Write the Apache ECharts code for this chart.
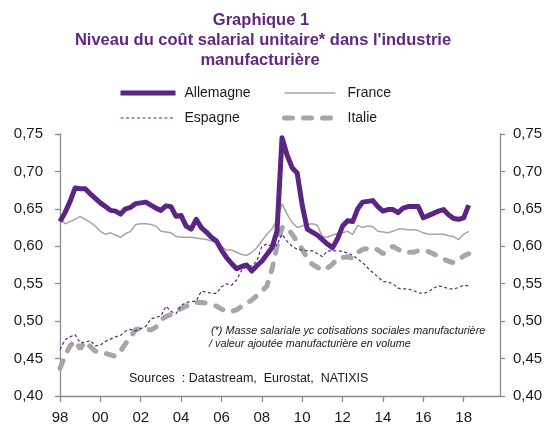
<!DOCTYPE html>
<html>
<head>
<meta charset="utf-8">
<script src="https://cdn.jsdelivr.net/npm/echarts@6/dist/echarts.min.js"></script>
<style>
  html, body { margin: 0; padding: 0; background: #fff; }
  #chart { width: 550px; height: 425px; }
</style>
</head>
<body>
<div id="chart"></div>
<script>
// Coût salarial unitaire, données trimestrielles depuis 1998T1
var startYear = 1998;
var allemagne = [
  0.633, 0.645, 0.660, 0.678, 0.677, 0.677, 0.670, 0.664, 0.658, 0.653,
  0.648, 0.647, 0.643, 0.650, 0.652, 0.657, 0.658, 0.659, 0.655, 0.651,
  0.648, 0.654, 0.653, 0.640, 0.641, 0.627, 0.623, 0.636, 0.625, 0.619,
  0.612, 0.607, 0.595, 0.585, 0.577, 0.570, 0.573, 0.575, 0.567, 0.574,
  0.580, 0.589, 0.598, 0.620, 0.745, 0.722, 0.705, 0.698, 0.655, 0.623,
  0.619, 0.615, 0.609, 0.603, 0.598, 0.610, 0.627, 0.634, 0.633, 0.650,
  0.659, 0.660, 0.661, 0.653, 0.647, 0.649, 0.649, 0.645, 0.651, 0.653,
  0.653, 0.653, 0.638, 0.641, 0.644, 0.647, 0.649, 0.642, 0.637, 0.636,
  0.638, 0.655
];
var france = [
  0.638, 0.630, 0.633, 0.636, 0.640, 0.636, 0.632, 0.627, 0.620, 0.616,
  0.618, 0.615, 0.612, 0.617, 0.620, 0.629, 0.630, 0.630, 0.629, 0.627,
  0.620, 0.619, 0.618, 0.613, 0.612, 0.612, 0.612, 0.611, 0.610, 0.609,
  0.607, 0.605, 0.600, 0.595, 0.595, 0.592, 0.589, 0.588, 0.592, 0.598,
  0.607, 0.616, 0.623, 0.635, 0.657, 0.643, 0.632, 0.625, 0.627, 0.629,
  0.630, 0.628, 0.613, 0.612, 0.615, 0.617, 0.618, 0.620, 0.616, 0.628,
  0.625, 0.627, 0.626, 0.620, 0.619, 0.618, 0.620, 0.623, 0.623, 0.622,
  0.622, 0.621, 0.618, 0.616, 0.616, 0.616, 0.616, 0.614, 0.613, 0.609,
  0.616, 0.620
];
var espagne = [
  0.462, 0.475, 0.479, 0.482, 0.471, 0.472, 0.474, 0.467, 0.468, 0.473,
  0.476, 0.479, 0.481, 0.487, 0.489, 0.487, 0.490, 0.493, 0.503, 0.505,
  0.507, 0.520, 0.513, 0.510, 0.521, 0.525, 0.526, 0.527, 0.540, 0.539,
  0.537, 0.537, 0.546, 0.550, 0.548, 0.555, 0.568, 0.573, 0.574, 0.580,
  0.600, 0.603, 0.600, 0.602, 0.616, 0.607, 0.600, 0.596, 0.595, 0.594,
  0.594, 0.590, 0.586, 0.594, 0.594, 0.594, 0.593, 0.591, 0.588, 0.583,
  0.578, 0.571, 0.565, 0.559, 0.553, 0.552, 0.550, 0.544, 0.543, 0.543,
  0.541, 0.538, 0.537, 0.539, 0.544, 0.547, 0.546, 0.543, 0.543, 0.545,
  0.548, 0.547
];
var italie = [
  0.437, 0.454, 0.467, 0.474, 0.463, 0.473, 0.466, 0.460, 0.458, 0.457,
  0.455, 0.453, 0.460, 0.470, 0.479, 0.489, 0.490, 0.490, 0.488, 0.492,
  0.502, 0.506, 0.509, 0.513, 0.517, 0.520, 0.523, 0.525, 0.525, 0.524,
  0.522, 0.520, 0.516, 0.513, 0.513, 0.515, 0.520, 0.524, 0.528, 0.534,
  0.540, 0.547, 0.569, 0.600, 0.625, 0.626, 0.616, 0.606, 0.596, 0.584,
  0.576, 0.572, 0.568, 0.571, 0.576, 0.584, 0.585, 0.586, 0.584, 0.592,
  0.596, 0.597, 0.598, 0.595, 0.590, 0.595, 0.600, 0.596, 0.592, 0.592,
  0.592, 0.594, 0.594, 0.593, 0.590, 0.586, 0.583, 0.580, 0.578, 0.582,
  0.587, 0.590
];
var yMin = 0.40, yMax = 0.75, yStep = 0.05;
var xMin = 1998, xMax = 2019.8, xStep = 2;

var purple = '#5c2483';
var grey = '#a6a6a6';
var font = 'Arial, "Liberation Sans", sans-serif';

function points(values) {
  return values.map(function(v, i) { return [startYear + i / 4, v]; });
}

var chart = echarts.init(document.getElementById('chart'));

var yAxisBase = {
  type: 'value',
  min: yMin,
  max: yMax,
  interval: yStep,
  splitLine: { show: false },
  axisLine: { show: true, lineStyle: { color: '#8c8c8c', width: 1.3 } },
  axisTick: { show: true, length: 5, lineStyle: { color: '#8c8c8c', width: 1.3 } },
  axisLabel: {
    color: '#1a1a1a',
    fontSize: 15,
    fontFamily: font,
    formatter: function(v) { return v.toFixed(2).replace('.', ','); }
  }
};

// pas de rond sur les icônes de légende
var noSymbol = { color: 'rgba(0,0,0,0)', borderWidth: 0 };

var option = {
  animation: false,
  backgroundColor: '#fff',
  grid: { left: 60, right: 50, top: 134, bottom: 26 },
  legend: [
    {
      orient: 'vertical',
      left: 118, top: 86, padding: 0,
      itemWidth: 55, itemHeight: 14, itemGap: 11,
      itemStyle: noSymbol,
      textStyle: { color: '#1a1a1a', fontSize: 14, fontFamily: font, padding: [0, 0, 0, 4] },
      data: [
        { name: 'Allemagne', itemStyle: noSymbol, lineStyle: { width: 5, color: purple } },
        { name: 'Espagne', itemStyle: noSymbol, lineStyle: { width: 1.2, color: purple, type: [3, 2.5] } }
      ]
    },
    {
      orient: 'vertical',
      left: 282, top: 86, padding: 0,
      itemWidth: 51, itemHeight: 14, itemGap: 11,
      itemStyle: noSymbol,
      textStyle: { color: '#1a1a1a', fontSize: 14, fontFamily: font, padding: [0, 0, 0, 7] },
      data: [
        { name: 'France', itemStyle: noSymbol, lineStyle: { width: 1.5, color: grey } },
        { name: 'Italie', itemStyle: noSymbol, lineStyle: { width: 5, color: grey, type: [8, 11], cap: 'round' } }
      ]
    }
  ],
  xAxis: {
    type: 'value',
    min: xMin,
    max: xMax,
    interval: xStep,
    splitLine: { show: false },
    axisLine: { lineStyle: { color: '#8c8c8c', width: 1.3 } },
    axisTick: { show: true, length: 6, lineStyle: { color: '#8c8c8c', width: 1.3 } },
    axisLabel: {
      color: '#1a1a1a',
      fontSize: 15,
      fontFamily: font,
      margin: 14,
      showMaxLabel: false,
      formatter: function(v) {
        return (Math.round(v) === v && v % 2 === 0) ? String(v).slice(2) : '';
      }
    }
  },
  yAxis: [
    Object.assign({}, yAxisBase, { position: 'left', axisLabel: Object.assign({}, yAxisBase.axisLabel, { margin: 17 }) }),
    Object.assign({}, yAxisBase, { position: 'right', axisLabel: Object.assign({}, yAxisBase.axisLabel, { margin: 13 }) })
  ],
  series: [
    {
      name: 'Italie', type: 'line', symbol: 'none', data: points(italie),
      lineStyle: { color: grey, width: 5, type: [8, 11], cap: 'round' },
      itemStyle: { color: grey }
    },
    {
      name: 'Espagne', type: 'line', symbol: 'none', data: points(espagne),
      lineStyle: { color: purple, width: 1.2, type: [3, 2.5] },
      itemStyle: { color: purple }
    },
    {
      name: 'France', type: 'line', symbol: 'none', data: points(france),
      lineStyle: { color: grey, width: 1.5 },
      itemStyle: { color: grey }
    },
    {
      name: 'Allemagne', type: 'line', symbol: 'none', data: points(allemagne),
      lineStyle: { color: purple, width: 5, join: 'round' },
      itemStyle: { color: purple }
    }
  ],
  graphic: [
    { type: 'text', x: 261, y: 20, style: { text: 'Graphique 1', align: 'center', verticalAlign: 'middle', font: 'bold 16.5px ' + font, fill: '#61287f' } },
    { type: 'text', x: 263, y: 40, style: { text: "Niveau du coût salarial unitaire* dans l'industrie", align: 'center', verticalAlign: 'middle', font: 'bold 16.5px ' + font, fill: '#61287f' } },
    { type: 'text', x: 260, y: 60, style: { text: 'manufacturière', align: 'center', verticalAlign: 'middle', font: 'bold 16.5px ' + font, fill: '#61287f' } },
    { type: 'text', x: 211, y: 331, style: { text: '(*) Masse salariale yc cotisations sociales manufacturière', verticalAlign: 'middle', font: 'italic 10.8px ' + font, fill: '#1a1a1a' } },
    { type: 'text', x: 209, y: 344, style: { text: '/ valeur ajoutée manufacturière en volume', verticalAlign: 'middle', font: 'italic 10.8px ' + font, fill: '#1a1a1a' } },
    { type: 'text', x: 129, y: 379, style: { text: 'Sources  : Datastream,  Eurostat,  NATIXIS', verticalAlign: 'middle', font: '12.5px ' + font, fill: '#1a1a1a' } }
  ]
};

chart.setOption(option);
</script>
</body>
</html>
